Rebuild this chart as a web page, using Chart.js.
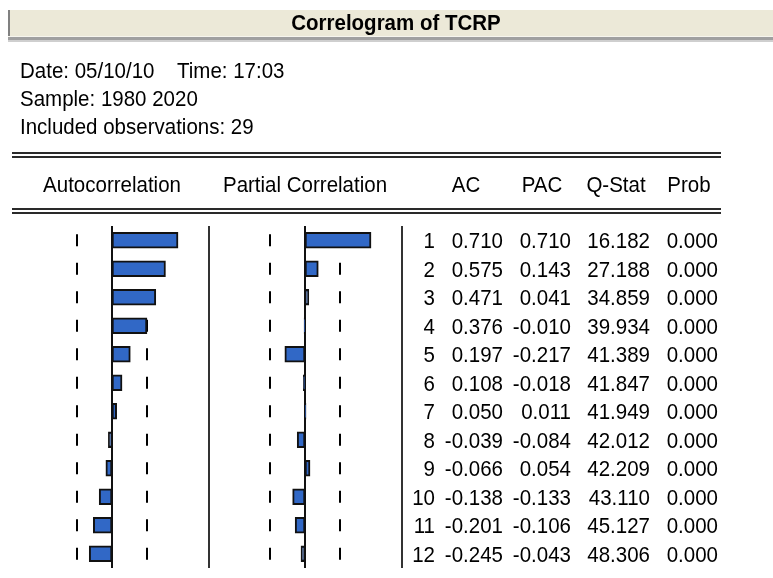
<!DOCTYPE html>
<html>
<head>
<meta charset="utf-8">
<script src="https://cdn.jsdelivr.net/npm/chart.js@4/dist/chart.umd.min.js"></script>
<style>
  html, body { margin: 0; padding: 0; background: #ffffff; }
  #wrap { position: relative; width: 773px; height: 578px; }
  canvas { display: block; }
</style>
</head>
<body>
<div id="wrap"><canvas id="corr" width="773" height="578"></canvas></div>
<script>
// Correlogram of TCRP: autocorrelation / partial autocorrelation table
const seriesName = 'TCRP';
const runDate = '05/10/10';
const runTime = '17:03';
const sampleRange = '1980 2020';
const nObs = 29;

const lags = [1, 2, 3, 4, 5, 6, 7, 8, 9, 10, 11, 12];
const acValues = [0.710, 0.575, 0.471, 0.376, 0.197, 0.108, 0.050, -0.039, -0.066, -0.138, -0.201, -0.245];
const pacValues = [0.710, 0.143, 0.041, -0.010, -0.217, -0.018, 0.011, -0.084, 0.054, -0.133, -0.106, -0.043];
const qStats = [16.182, 27.188, 34.859, 39.934, 41.389, 41.847, 41.949, 42.012, 42.209, 43.110, 45.127, 48.306];
const probs = [0.000, 0.000, 0.000, 0.000, 0.000, 0.000, 0.000, 0.000, 0.000, 0.000, 0.000, 0.000];
const columnHeads = ['AC', 'PAC', 'Q-Stat', 'Prob'];

// approximate 95% band for the bar panels
const band = 2 / Math.sqrt(nObs);

// panel geometry (pixels): where each panel's zero line sits and px per unit of correlation
const W = 773;
const UNIT = 93;
const ZERO_AC = 112;
const ZERO_PAC = 305;
const rangeOf = zero => ({ min: -zero / UNIT, max: (W - zero) / UNIT });

const FONT = '"Liberation Sans", Arial, sans-serif';
const BODY_FONT = '20.5px ' + FONT;
const TEXT_STRETCH = 1.12;   // slightly tall, narrow screen font
const BAR_FILL = '#3168C6';
const INK = '#111111';

function text(ctx, str, x, yCenter, align, font) {
  ctx.save();
  ctx.font = font || BODY_FONT;
  ctx.textAlign = align || 'left';
  ctx.textBaseline = 'alphabetic';
  ctx.fillStyle = '#000000';
  ctx.translate(x, yCenter + 7.9);
  ctx.scale(1, TEXT_STRETCH);
  ctx.fillText(str, 0, 0);
  ctx.restore();
}

function hline(ctx, x1, x2, y, w, color) {
  ctx.fillStyle = color;
  ctx.fillRect(x1, y, x2 - x1, w);
}

const tablePlugin = {
  id: 'correlogramTable',
  beforeDraw(chart) {
    const ctx = chart.ctx;
    ctx.save();
    ctx.fillStyle = '#ffffff';
    ctx.fillRect(0, 0, chart.width, chart.height);

    // title bar
    ctx.fillStyle = '#ECE9D8';
    ctx.fillRect(8, 10, chart.width - 8, 26);
    ctx.fillStyle = '#808080';
    ctx.fillRect(8, 10, 2, 27);
    hline(ctx, 8, chart.width, 36, 1, '#f6f5ee');
    hline(ctx, 8, chart.width, 37, 3, '#a0a0a0');
    hline(ctx, 8, chart.width, 40, 2, '#cfcfcf');
    text(ctx, 'Correlogram of ' + seriesName, 396, 22, 'center', 'bold 20.5px ' + FONT);

    // run information
    text(ctx, 'Date: ' + runDate, 20, 70);
    text(ctx, 'Time: ' + runTime, 177, 70);
    text(ctx, 'Sample: ' + sampleRange, 20, 98);
    text(ctx, 'Included observations: ' + nObs, 20, 126);

    // double rules around the column headings
    hline(ctx, 12, 721, 152, 2, '#2a2a2a');
    hline(ctx, 12, 721, 156, 2, '#2a2a2a');
    hline(ctx, 12, 721, 208, 2, '#2a2a2a');
    hline(ctx, 12, 721, 212, 2, '#2a2a2a');

    text(ctx, 'Autocorrelation', 112, 184, 'center');
    text(ctx, 'Partial Correlation', 305, 184, 'center');
    const headX = [466, 542, 616, 689];
    columnHeads.forEach((h, i) => text(ctx, h, headX[i], 184, 'center'));
    ctx.restore();
  },
  beforeDatasetsDraw(chart) {
    const ctx = chart.ctx;
    const area = chart.chartArea;
    const y = chart.scales.y;
    ctx.save();
    // panel separators
    ctx.fillStyle = '#333333';
    ctx.fillRect(208, area.top, 2, area.bottom - area.top);
    ctx.fillRect(401, area.top, 2, area.bottom - area.top);

    ['xa', 'xp'].forEach(id => {
      const sc = chart.scales[id];
      const z = sc.getPixelForValue(0);
      ctx.fillStyle = INK;
      ctx.fillRect(Math.round(z) - 1, area.top, 2, area.bottom - area.top);
      // dashed significance band: one short tick per lag
      const lo = sc.getPixelForValue(-band);
      const hi = sc.getPixelForValue(band);
      ctx.fillStyle = '#000000';
      lags.forEach((lag, i) => {
        const yc = y.getPixelForValue(i);
        ctx.fillRect(Math.round(lo) - 1, yc - 6, 2, 12);
        ctx.fillRect(Math.round(hi) - 1, yc - 6, 2, 12);
      });
    });
    ctx.restore();
  },
  afterDatasetsDraw(chart) {
    const ctx = chart.ctx;
    const y = chart.scales.y;
    ctx.save();
    lags.forEach((lag, i) => {
      const yc = y.getPixelForValue(i);
      text(ctx, String(lag), 435, yc, 'right');
      text(ctx, acValues[i].toFixed(3), 503, yc, 'right');
      text(ctx, pacValues[i].toFixed(3), 571, yc, 'right');
      text(ctx, qStats[i].toFixed(3), 650, yc, 'right');
      text(ctx, probs[i].toFixed(3), 718, yc, 'right');
    });
    ctx.restore();
  }
};

const barStyle = {
  backgroundColor: BAR_FILL,
  borderColor: INK,
  borderWidth: 2,
  borderSkipped: false,
  barThickness: 16
};

new Chart(document.getElementById('corr'), {
  type: 'bar',
  data: {
    labels: lags.map(String),
    datasets: [
      Object.assign({ label: 'Autocorrelation', data: acValues, xAxisID: 'xa' }, barStyle),
      Object.assign({ label: 'Partial Correlation', data: pacValues, xAxisID: 'xp' }, barStyle)
    ]
  },
  options: {
    indexAxis: 'y',
    responsive: false,
    animation: false,
    devicePixelRatio: 1,
    grouped: false,
    layout: { padding: { top: 226, bottom: 10, left: 0, right: 0 } },
    plugins: { legend: { display: false }, tooltip: { enabled: false }, title: { display: false } },
    scales: {
      y: { type: 'category', display: false, offset: true, grid: { display: false } },
      xa: Object.assign({ type: 'linear', axis: 'x', position: 'bottom', display: false }, rangeOf(ZERO_AC)),
      xp: Object.assign({ type: 'linear', axis: 'x', position: 'bottom', display: false }, rangeOf(ZERO_PAC))
    }
  },
  plugins: [tablePlugin]
});
</script>
</body>
</html>
